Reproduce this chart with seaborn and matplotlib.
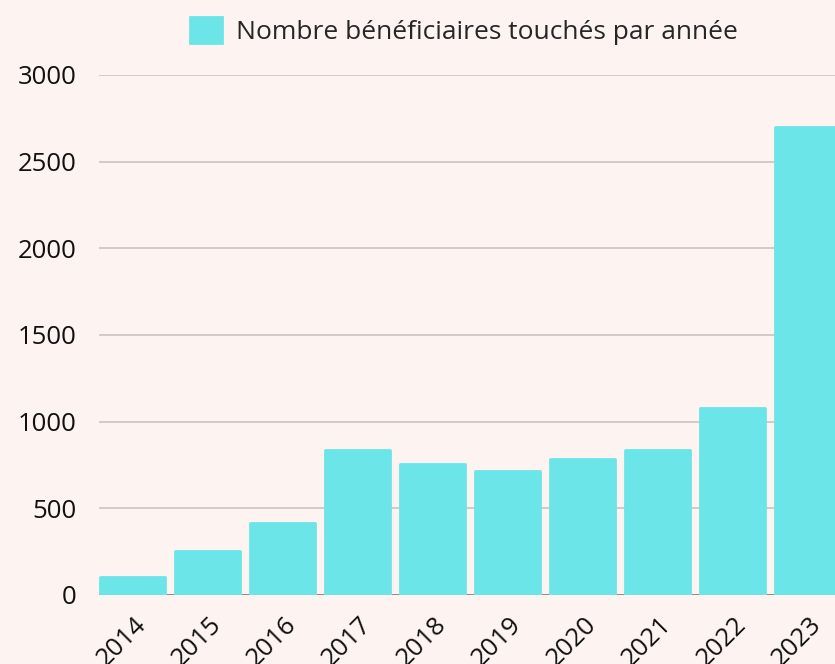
import pandas as pd
import matplotlib as mpl
mpl.use("Agg")
import matplotlib.pyplot as plt
from matplotlib.transforms import ScaledTranslation
import seaborn as sns

years = ["2014", "2015", "2016", "2017", "2018", "2019", "2020", "2021", "2022", "2023"]
beneficiaires = [105, 255, 415, 838, 758, 718, 785, 838, 1080, 2700]
serie = "Nombre bénéficiaires touchés par année"

df = pd.DataFrame({"annee": years, "valeur": beneficiaires})

bg = "#fdf4f1"
bar_color = "#6be5e8"

sns.set_style("white")
plt.rcParams["font.family"] = ["Open Sans", "DejaVu Sans"]

fig = plt.figure(figsize=(8.35, 6.64), dpi=100, facecolor=bg)
# axes deliberately run past the right edge, like the reference
ax = fig.add_axes([99 / 835, 69 / 664, 742 / 835, 520 / 664], facecolor=bg)

sns.barplot(data=df, x="annee", y="valeur", color=bar_color, width=0.86,
            saturation=1, ax=ax, label=serie, zorder=3)
for p in ax.patches:
    p.set_edgecolor(bar_color)
    p.set_linewidth(2)
    p.set_joinstyle("round")

ax.set_xlim(-0.4467, 9.4467)
ax.set_ylim(0, 3000)
ax.set_yticks(range(0, 3001, 500))
ax.yaxis.grid(True, color="#cbc3c1", linewidth=1.2, zorder=0)
ax.set_axisbelow(True)
ax.axhline(0, color="#8c8684", linewidth=2, zorder=1)
for s in ax.spines.values():
    s.set_visible(False)
ax.set_xlabel("")
ax.set_ylabel("")
ax.tick_params(axis="both", length=0, labelsize=18.5, colors="#111111")
ax.tick_params(axis="y", pad=16)
ax.tick_params(axis="x", pad=12)
shift = ScaledTranslation(19 / 100, 0, fig.dpi_scale_trans)
for lab in ax.get_xticklabels():
    lab.set_rotation(45)
    lab.set_horizontalalignment("right")
    lab.set_transform(lab.get_transform() + shift)

leg = ax.legend(loc="center left", bbox_to_anchor=(190 / 835, 1 - 31 / 664),
                bbox_transform=fig.transFigure, frameon=False, fontsize=19,
                handlelength=1.2, handleheight=1.15, handletextpad=0.55,
                borderaxespad=0, borderpad=0)

fig.savefig("out.png", dpi=100, facecolor=bg)
